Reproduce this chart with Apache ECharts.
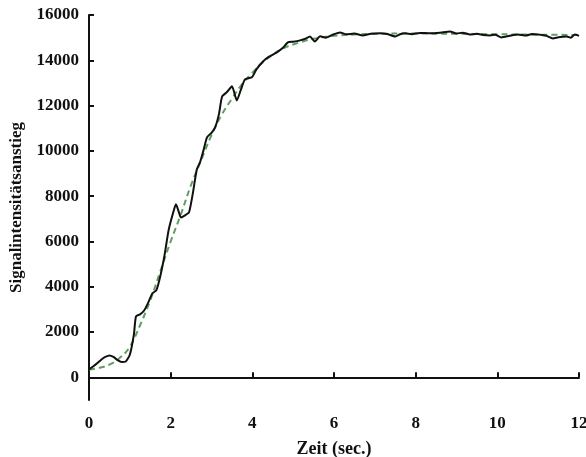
<!DOCTYPE html>
<html>
<head>
<meta charset="utf-8">
<script src="https://cdn.jsdelivr.net/npm/echarts@6/dist/echarts.min.js"></script>
<style>html,body{margin:0;padding:0;background:#fff}#c{width:586px;height:457px}</style>
</head>
<body>
<div id="c"></div>
<script>
var xTicks = [0, 2, 4, 6, 8, 10, 12];
var yTicks = [0, 2000, 4000, 6000, 8000, 10000, 12000, 14000, 16000];
var xAxisName = 'Zeit (sec.)';
var yAxisName = 'Signalintensitätsanstieg';

var measTimes = [0,0.1,0.2,0.3,0.4,0.5,0.6,0.7,0.8,0.9,1.0,1.1,1.15,1.25,1.35,1.45,1.55,1.65,1.75,1.85,1.95,2.05,2.13,2.2,2.25,2.35,2.45,2.55,2.64,2.72,2.8,2.89,3.0,3.09,3.18,3.26,3.38,3.5,3.62,3.72,3.82,3.99,4.1,4.26,4.4,4.6,4.75,4.87,5.0,5.17,5.3,5.41,5.53,5.66,5.8,5.98,6.15,6.3,6.5,6.7,6.9,7.13,7.3,7.5,7.62,7.74,7.9,8.1,8.35,8.6,8.84,9.0,9.15,9.33,9.5,9.65,9.82,9.95,10.1,10.3,10.5,10.7,10.85,11.0,11.2,11.36,11.5,11.7,11.8,11.9,12.0];
var measValues = [350,480,620,780,900,970,900,760,680,700,1000,1900,2690,2780,2950,3300,3700,3850,4500,5400,6500,7200,7640,7300,7060,7150,7290,8200,9180,9500,10000,10600,10800,11040,11600,12400,12600,12850,12230,12700,13160,13250,13600,13950,14150,14350,14550,14790,14820,14880,14950,15050,14830,15060,15000,15140,15230,15150,15180,15100,15170,15190,15160,15050,15150,15190,15150,15210,15190,15220,15270,15180,15220,15140,15170,15120,15100,15130,15010,15080,15140,15090,15160,15140,15080,14960,15020,15050,15000,15140,15080];

var fitTimes = [0,0.25,0.5,0.75,1,1.25,1.5,1.75,2,2.25,2.5,2.75,3,3.25,3.5,3.75,4,4.25,4.5,4.75,5,5.5,6,6.5,7,8,9,10,11,12];
var fitValues = [350,420,560,850,1350,2300,3400,4700,6000,7200,8500,9600,10700,11600,12300,12950,13450,13900,14250,14520,14700,14950,15080,15140,15170,15180,15170,15150,15130,15120];

function pairs(t, v) { return t.map(function (x, i) { return [x, v[i]]; }); }

var font = 'Liberation Serif';
var chart = echarts.init(document.getElementById('c'), null, {renderer: 'canvas'});
chart.setOption({
  animation: false,
  backgroundColor: '#ffffff',
  grid: {left: 89, right: 7, top: 15, bottom: 57, containLabel: false, outerBoundsMode: 'none'},
  xAxis: {
    type: 'value', min: 0, max: 12, interval: 2,
    name: xAxisName, nameLocation: 'middle', nameGap: 40,
    nameTextStyle: {fontFamily: font, fontWeight: 'bold', fontSize: 18, color: '#111'},
    axisLine: {show: true, lineStyle: {color: '#111', width: 2}},
    axisTick: {show: true, inside: true, length: 5, lineStyle: {color: '#111', width: 2}},
    axisLabel: {fontFamily: font, fontWeight: 'bold', fontSize: 17, color: '#111', margin: 15,
      formatter: function (v) { return xTicks.indexOf(v) >= 0 ? String(v) : ''; }},
    splitLine: {show: false}
  },
  yAxis: {
    type: 'value', min: -1000, max: 16000,
    name: yAxisName, nameLocation: 'middle', nameGap: 63, nameRotate: 90,
    nameTextStyle: {fontFamily: font, fontWeight: 'bold', fontSize: 17, color: '#111'},
    axisLine: {show: true, lineStyle: {color: '#111', width: 2}},
    axisTick: {show: true, inside: true, length: 5, lineStyle: {color: '#111', width: 2}, customValues: yTicks},
    axisLabel: {fontFamily: font, fontWeight: 'bold', fontSize: 17, color: '#111', margin: 10, customValues: yTicks,
      formatter: function (v) { return String(v); }},
    splitLine: {show: false}
  },
  series: [
    {
      type: 'line', data: pairs(fitTimes, fitValues), showSymbol: false, smooth: 0.4,
      lineStyle: {color: '#5f9f5f', width: 2, type: [6, 4]}, z: 2
    },
    {
      type: 'line', data: pairs(measTimes, measValues), showSymbol: false, smooth: 0.2,
      lineStyle: {color: '#111', width: 2}, z: 3
    }
  ]
});
</script>
</body>
</html>
